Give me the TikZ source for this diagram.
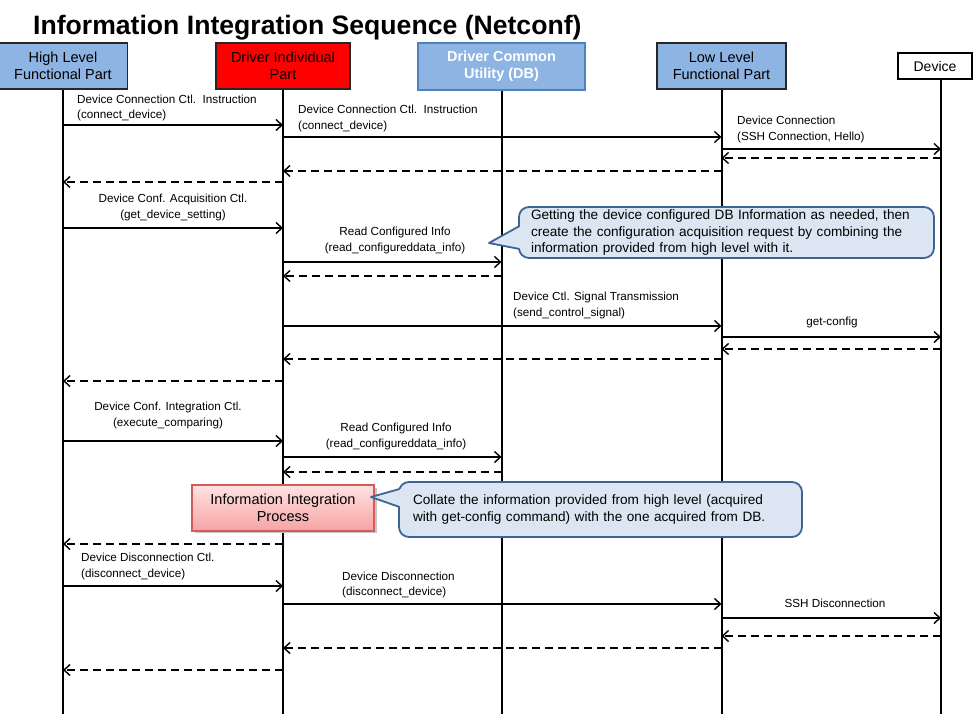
\documentclass[tikz,border=0pt]{standalone}
\usepackage{fontspec}
\setmainfont{Liberation Sans}
\usetikzlibrary{arrows.meta}
\definecolor{hdrblue}{HTML}{8EB4E3}
\definecolor{dbborder}{HTML}{4F81BD}
\definecolor{calfill}{HTML}{DCE6F2}
\definecolor{calborder}{HTML}{3C6596}
\definecolor{procborder}{HTML}{D35B5B}
\definecolor{proctop}{HTML}{FFE2E2}
\definecolor{procbot}{HTML}{F6A3A3}
\newcommand{\sqmsg}[4][msg]{\draw[#1] (#2 |- 0,#4) -- (#3 |- 0,#4);}
\begin{document}
\begin{tikzpicture}[x=1pt,y=-1pt,
  hdr/.style={draw=black!85, line width=1.2pt, fill=hdrblue, align=center, inner sep=0pt,
    minimum height=46pt, font=\fontsize{14.5}{17}\selectfont},
  lifeline/.style={line width=2pt},
  tipb/.tip={Straight Barb[length=6pt,width=11pt,line width=1.4pt]},
  msg/.style={line width=1.4pt, -tipb},
  ret/.style={line width=1.9pt, dash pattern=on 8pt off 5pt, -tipb},
  lbl/.style={font=\fontsize{11.7}{15.5}\selectfont, inner sep=0pt},
  callout/.style={draw=calborder, line width=1.8pt, fill=calfill, rounded corners=10pt,
    inner sep=0pt, align=left, font=\fontsize{13.6}{16.3}\selectfont},
  ]
\useasboundingbox (0,0) rectangle (979,714);

% title
\node[anchor=base west, inner sep=0pt, font=\bfseries\fontsize{26.6}{30}\selectfont] (title) at (33,35)
  {Information Integration Sequence (Netconf)};

% headers
\node[hdr, minimum width=129pt] (hl) at (63,66) {High Level\\Functional Part};
\node[hdr, minimum width=134pt, fill=red] (di) at (283,66) {Driver Individual\\Part};
\node[hdr, minimum width=167pt, minimum height=47pt, draw=dbborder, line width=2.4pt,
      font=\bfseries\fontsize{14.5}{17}\selectfont, text=white] (db) at (501.5,66.5) {Driver Common\\Utility (DB)};
\node[hdr, minimum width=129pt] (ll) at (721.5,66) {Low Level\\Functional Part};
\node[draw=black, line width=2pt, fill=white, minimum width=74pt, minimum height=26pt, inner sep=0pt,
      font=\fontsize{14}{16}\selectfont] (dev) at (935,66) {Device};
\coordinate (devtop) at (941,79);

% lifelines
\coordinate (hlB) at (63,714);
\coordinate (diB) at (283,714);
\coordinate (dbB) at (501.5,714);
\coordinate (llB) at (721.5,714);
\coordinate (devB) at (941,714);
\draw[lifeline] (hl.south) -- (hlB);
\draw[lifeline] (di.south) -- (diB);
\draw[lifeline] (db.south) -- (dbB);
\draw[lifeline] (ll.south) -- (llB);
\draw[lifeline] (devtop) -- (devB);

% connection
\node[lbl, align=left, anchor=west] (t1) at (77,108) {Device Connection Ctl.\ \ Instruction\\(connect\_device)};
\sqmsg{hlB}{diB}{125}
\node[lbl, align=left, anchor=west] (t2) at (298,118.5) {Device Connection Ctl.\ \ Instruction\\(connect\_device)};
\sqmsg{diB}{llB}{137}
\node[lbl, align=left, anchor=west] (t3) at (737,129.5) {Device Connection\\(SSH Connection, Hello)};
\sqmsg{llB}{devB}{149}
\sqmsg[ret]{devB}{llB}{158}
\sqmsg[ret]{llB}{diB}{171}
\sqmsg[ret]{diB}{hlB}{182}

% acquisition
\node[lbl, align=center] (t4) at (173,207.5) {Device Conf. Acquisition Ctl.\\(get\_device\_setting)};
\sqmsg{hlB}{diB}{228}
\node[lbl, align=center] (t5) at (395,240.5) {Read Configured Info\\(read\_configureddata\_info)};
\sqmsg{diB}{dbB}{262}
\sqmsg[ret]{dbB}{diB}{276}
\node[lbl, align=left, anchor=west] (t6) at (513,305.5) {Device Ctl. Signal Transmission\\(send\_control\_signal)};
\sqmsg{diB}{llB}{326}
\node[lbl, align=center] (t7) at (832,322) {get-config};
\sqmsg{llB}{devB}{337}
\sqmsg[ret]{devB}{llB}{349}
\sqmsg[ret]{llB}{diB}{359}
\sqmsg[ret]{diB}{hlB}{381}

% integration
\node[lbl, align=center] (t8) at (168,415.5) {Device Conf. Integration Ctl.\\(execute\_comparing)};
\sqmsg{hlB}{diB}{441}
\node[lbl, align=center] (t9) at (396,436.5) {Read Configured Info\\(read\_configureddata\_info)};
\sqmsg{diB}{dbB}{457}
\sqmsg[ret]{dbB}{diB}{472}

% process box
\fill[black!22] (194.5,487.5) rectangle (376.5,533);
\node[draw=procborder, line width=1.2pt, top color=proctop, bottom color=procbot,
      minimum width=182pt, minimum height=46pt, inner sep=0pt, align=center,
      font=\fontsize{14.5}{17.5}\selectfont] (proc) at (283,508) {Information Integration\\Process};

\sqmsg[ret]{diB}{hlB}{544}

% disconnection
\node[lbl, align=left, anchor=west] (t10) at (81,566.5) {Device Disconnection Ctl.\\(disconnect\_device)};
\sqmsg{hlB}{diB}{586}
\node[lbl, align=left, anchor=west] (t11) at (342,585) {Device Disconnection\\(disconnect\_device)};
\sqmsg{diB}{llB}{604}
\node[lbl, align=center] (t12) at (835,603) {SSH Disconnection};
\sqmsg{llB}{devB}{618}
\sqmsg[ret]{devB}{llB}{636}
\sqmsg[ret]{llB}{diB}{648}
\sqmsg[ret]{diB}{hlB}{670}

% callout 1
\node[callout, minimum width=415pt, minimum height=51pt, text width=391pt] (c1) at (726.5,232.5)
  {Getting the device configured DB Information as needed, then\\
   create the configuration acquisition request by combining the\\
   information provided from high level with it.};
\fill[calfill] (521,226) -- (489,243) -- (521,249) -- cycle;
\draw[calborder, line width=1.8pt, line join=round] (519.5,226) -- (489,243) -- (519.5,249);

% callout 2
\node[callout, minimum width=403pt, minimum height=55pt, text width=375pt] (c2) at (600.5,509.5)
  {Collate the information provided from high level (acquired\\
   with get-config command) with the one acquired from DB.};
\fill[calfill] (401,489) -- (371,497) -- (401,507) -- cycle;
\draw[calborder, line width=1.8pt, line join=round] (399.5,489) -- (371,497) -- (399.5,507);
\end{tikzpicture}
\end{document}
